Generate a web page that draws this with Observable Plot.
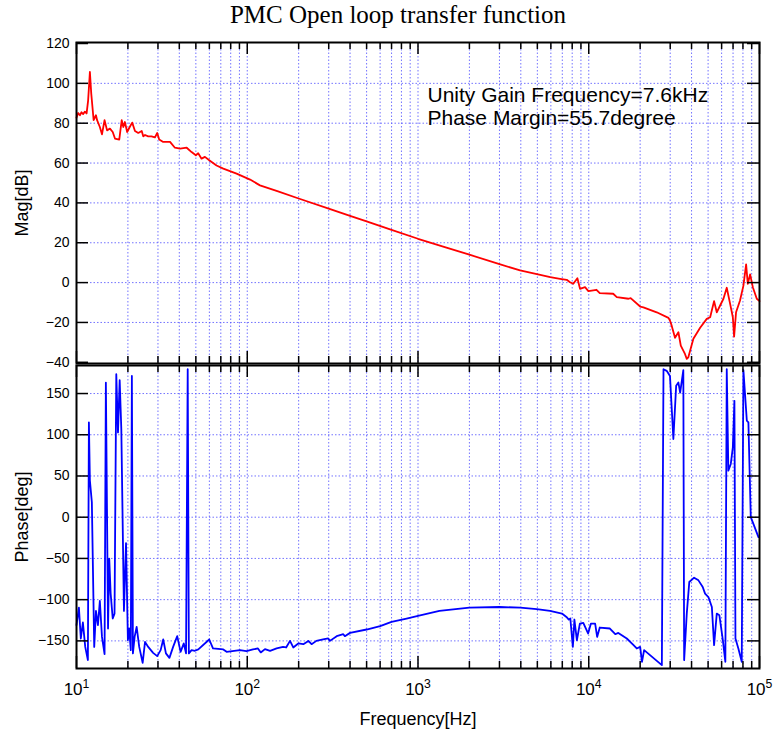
<!DOCTYPE html>
<html><head><meta charset="utf-8">
<script src="https://cdn.jsdelivr.net/npm/d3@7"></script>
<script src="https://cdn.jsdelivr.net/npm/@observablehq/plot@0.6"></script>
<style>
body{margin:0;background:#fff;}
#chart{position:relative;width:774px;height:736px;background:#fff;overflow:hidden;}
#title{position:absolute;left:0;top:1px;width:796px;text-align:center;font-family:"Liberation Serif","Times New Roman",serif;font-size:25px;color:#000;white-space:nowrap;}
</style>
</head><body>
<div id="chart"><div id="title"></div></div>
<script>
const chartTitle = "PMC Open loop transfer function";
const noteLines = ["Unity Gain Frequency=7.6kHz", "Phase Margin=55.7degree"];
const magLabel = "Mag[dB]";
const phaseLabel = "Phase[deg]";
const freqLabel = "Frequency[Hz]";

const magFreq = [10,10.23,10.47,10.7,10.94,11.2,11.46,11.7,11.98,12.2,12.6,13.0,13.2,13.7,14.1,14.6,15.1,15.7,16.3,16.8,17.8,18.4,18.8,19.2,19.8,20.5,21.2,22.0,23.0,24.1,24.6,25.2,26.3,27.5,28.8,29.7,30.5,32.2,35.3,37.7,40.4,44.2,47.2,50.0,51.6,54.0,56.5,59.9,66.1,72.4,86.6,103.9,118.7,150,200,300,400,500,700,1000,1500,2000,3000,3960,5200,5950,6790,7430,7770,8120,8580,8890,9510,9950,11100,11600,13900,14600,17100,17600,20000,20900,25000,29300,29900,30600,32000,33500,34600,36600,37500,38300,41000,44900,49100,51400,54200,56200,58800,61500,64300,67300,69800,71000,72900,76900,80500,83500,85400,88100,91400,96400,100000];
const magDb = [82.8,85.1,84.0,85.5,84.6,85.8,84.9,91.5,105.7,94.9,81.5,84.0,81.5,78.1,74.4,81.5,76.4,77.3,75.6,72.3,71.8,81.5,78.1,80.6,75.6,78.1,80.3,76.1,75.1,76.1,73.4,74.1,73.4,73.4,72.9,75.1,71.8,70.6,70.6,67.7,67.2,67.7,65.5,63.9,64.9,62.2,63.1,61.4,58.8,57.2,54.7,51.7,48.8,45.9,42.2,37.1,33.5,30.7,26.5,22.0,17.3,14.0,9.3,6.1,3.9,2.7,1.9,1.4,0.2,-0.6,2.2,-3.1,-2.3,-4.3,-3.6,-5.3,-5.6,-7.3,-8.1,-7.8,-12.0,-12.4,-14.9,-17.7,-19.0,-21.6,-27.7,-24.9,-31.6,-35.8,-38.3,-37.5,-28.2,-22.7,-18.2,-17.4,-9.3,-14.9,-11.5,-8.1,-2.6,-10.7,-17.4,-27.1,-14.9,-9.0,-1.5,9.1,-0.6,4.1,-2.3,-8.1,-9.3];

const phaseFreq = [10,10.33,10.6,10.9,11.25,11.66,11.82,11.98,12.3,12.7,13.0,13.35,13.7,14.1,14.6,14.86,15.3,15.55,15.85,16.3,16.7,17.1,17.5,17.9,18.3,18.96,19.5,20.0,20.35,20.8,21.1,21.4,21.9,22.5,23.3,24.4,25.2,26.3,28.1,29.7,31.1,32.2,33.4,35.0,36.8,38.9,40.7,42.5,43.8,44.8,45.5,47.2,49.4,51.7,59.9,63,72.4,75.7,90.6,99,108,115.5,120,127,136,148.6,162,169,178,186,199,213,228,238,254,278,298,305,334,365,373,400,500,600,700,857,1000,1335,2000,3000,3970,4960,5930,6970,7400,7640,7800,8070,8240,8520,8870,9290,9910,10300,10900,11200,11600,13300,14300,14900,16700,18300,19100,20000,20500,21100,26800,27400,28600,29900,31300,32500,33500,34300,35800,36200,37500,38800,41400,43900,46500,48000,50200,52600,54200,56200,58200,61000,63100,64300,65700,67900,69800,71300,72300,75200,78700,80500,84300,86100,88900,92100,98600];
const phaseDeg = [-131.0,-109.6,-147.1,-127.7,-157.3,-173.3,114.9,44.4,18.1,-157.3,-113.7,-131.0,-101.6,-145.2,-166.1,163.3,-135.0,-50.3,-92.7,-122.9,-116.9,173.5,102.8,166.2,106.9,-113.7,-31.4,-149.2,-135.0,-161.2,171.4,-165.2,-145.2,-133.1,-157.3,-176.6,-151.2,-157.3,-164.5,-168.5,-161.2,-148.3,-165.2,-170.6,-157.3,-144.3,-163.3,-153.1,-165.2,179.5,-165.2,-161.2,-162.0,-160.4,-148.3,-159.2,-160.4,-163.3,-161.2,-162.5,-160.4,-159.2,-164.0,-160.0,-162.1,-159.2,-157.3,-158.0,-150.0,-158.0,-153.1,-154.0,-150.0,-154.0,-150.0,-148.3,-147.1,-150.0,-144.3,-141.9,-144.3,-140.3,-136.2,-132.2,-127.0,-122.9,-119.8,-113.7,-109.6,-108.9,-109.6,-111.6,-113.7,-116.9,-121.0,-124.1,-122.9,-157.3,-124.1,-149.2,-129.0,-128.2,-141.0,-129.0,-129.0,-145.2,-133.8,-135.0,-141.9,-140.3,-147.1,-155.2,-159.2,-157.3,-175.4,-161.2,-179.4,179.5,177.5,171.4,94.8,159.3,163.3,151.2,178.3,-173.3,-116.9,-78.6,-73.3,-76.6,-84.7,-92.7,-96.8,-108.9,-155.2,-116.9,-118.9,-149.2,-175.4,179.5,56.5,64.6,84.7,141.2,-147.1,-159.2,-175.4,178.3,117.0,114.9,0.0,-8.0,-24.2];

const decadeTicks = [10, 100, 1000, 10000, 100000];
const decadeExps = ["1", "2", "3", "4", "5"];
const minorSteps = [2, 3, 4, 5, 6, 7, 8, 9];
const magTicks = [-40, -20, 0, 20, 40, 60, 80, 100, 120];
const phaseTicks = [-150, -100, -50, 0, 50, 100, 150];

const minorTicks = decadeTicks.slice(0, -1).flatMap(d => minorSteps.map(s => s * d));
const allXTicks = decadeTicks.concat(minorTicks);
const magData = magFreq.map((f, i) => ({f, v: magDb[i]}));
const phaseData = phaseFreq.map((f, i) => ({f, v: phaseDeg[i]}));

const W = 774, ML = 76, MR = 15, PW = W - ML - MR;
const gridStyle = {stroke: "#5a5aff", strokeDasharray: "1.5,2", strokeOpacity: 0.85, strokeWidth: 1};
const font = "'Liberation Sans', Arial, Helvetica, sans-serif";
const xScale = {type: "log", domain: [10, 100000]};

function tickMarks(ph, yTicks) {
  return [
    Plot.tickX(decadeTicks, {x: d => d, insetTop: ph - 12, stroke: "#000", strokeWidth: 1.5}),
    Plot.tickX(minorTicks, {x: d => d, insetTop: ph - 7, stroke: "#000", strokeWidth: 1.5}),
    Plot.tickX(decadeTicks, {x: d => d, insetBottom: ph - 12, stroke: "#000", strokeWidth: 1.5}),
    Plot.tickX(minorTicks, {x: d => d, insetBottom: ph - 7, stroke: "#000", strokeWidth: 1.5}),
    Plot.tickY(yTicks, {y: d => d, insetRight: PW - 12, stroke: "#000", strokeWidth: 1.5}),
    Plot.tickY(yTicks, {y: d => d, insetLeft: PW - 12, stroke: "#000", strokeWidth: 1.5})
  ];
}

const H1 = 365, MT1 = 42, MB1 = 2, PH1 = H1 - MT1 - MB1;
const magPlot = Plot.plot({
  width: W, height: H1, marginLeft: ML, marginRight: MR, marginTop: MT1, marginBottom: MB1,
  style: {background: "transparent", overflow: "visible", fontFamily: font, color: "#000"},
  x: {...xScale, axis: null},
  y: {domain: [-40.6, 120.5]},
  marks: [
    Plot.gridX(allXTicks, gridStyle),
    Plot.gridY(magTicks.slice(1, -1), gridStyle),
    Plot.line(magData, {x: "f", y: "v", stroke: "#ff0000", strokeWidth: 1.8}),
    Plot.frame({stroke: "#000", strokeWidth: 2}),
    ...tickMarks(PH1, magTicks),
    Plot.axisY({ticks: magTicks, tickSize: 0, tickPadding: 7, fontSize: 14, label: null}),
    Plot.text([noteLines.join("\n")], {text: d => d, frameAnchor: "top-left", dx: 351, dy: 42, fontSize: 21, lineHeight: 1.14, textAnchor: "start", lineAnchor: "top", fill: "#000"}),
    Plot.text([magLabel], {text: d => d, frameAnchor: "left", dx: -54, rotate: -90, textAnchor: "middle", lineAnchor: "middle", fontSize: 18, fill: "#000"})
  ]
});

const H2 = 373, MT2 = 2, MB2 = 68, PH2 = H2 - MT2 - MB2;
const phasePlot = Plot.plot({
  width: W, height: H2, marginLeft: ML, marginRight: MR, marginTop: MT2, marginBottom: MB2,
  style: {background: "transparent", overflow: "visible", fontFamily: font, color: "#000"},
  x: xScale,
  y: {domain: [-183.5, 184]},
  marks: [
    Plot.gridX(allXTicks, gridStyle),
    Plot.gridY(phaseTicks, gridStyle),
    Plot.line(phaseData, {x: "f", y: "v", stroke: "#0000ff", strokeWidth: 1.8}),
    Plot.frame({stroke: "#000", strokeWidth: 2}),
    ...tickMarks(PH2, phaseTicks),
    Plot.axisY({ticks: phaseTicks, tickSize: 0, tickPadding: 7, fontSize: 14, label: null}),
    Plot.axisX({ticks: decadeTicks, tickSize: 0, tickPadding: 14, fontSize: 17, label: null,
      tickFormat: d => "10^" + decadeExps[decadeTicks.indexOf(d)]}),
    Plot.text([phaseLabel], {text: d => d, frameAnchor: "left", dx: -54, rotate: -90, textAnchor: "middle", lineAnchor: "middle", fontSize: 18, fill: "#000"}),
    Plot.text([freqLabel], {text: d => d, frameAnchor: "bottom", dy: 51, lineAnchor: "middle", fontSize: 18, fill: "#000"})
  ]
});

// superscript exponents on decade labels
phasePlot.querySelectorAll("text").forEach(t => {
  if (t.children.length === 0 && t.textContent.includes("^")) {
    const [b, e] = t.textContent.split("^");
    t.textContent = b;
    const ts = document.createElementNS("http://www.w3.org/2000/svg", "tspan");
    ts.setAttribute("dy", "-0.5em");
    ts.setAttribute("font-size", "0.72em");
    ts.textContent = e;
    t.appendChild(ts);
  }
});

const chart = document.getElementById("chart");
document.getElementById("title").textContent = chartTitle;
magPlot.style.position = "absolute"; magPlot.style.left = "0px"; magPlot.style.top = "0px";
phasePlot.style.position = "absolute"; phasePlot.style.left = "0px"; phasePlot.style.top = "363px";
chart.appendChild(magPlot);
chart.appendChild(phasePlot);
</script>
</body></html>
